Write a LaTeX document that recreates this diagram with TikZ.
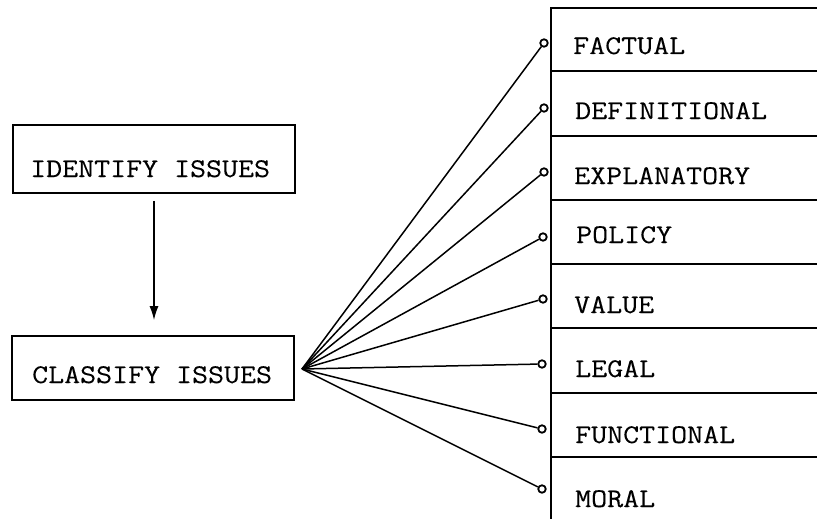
\documentclass[tikz,border=0pt]{standalone}
\usepackage{fontspec}
\usetikzlibrary{arrows.meta}
\newfontfamily\typewr{Latin Modern Mono}[FakeStretch=1.15,FakeBold=0.2]
\begin{document}
\begin{tikzpicture}[x=1pt,y=-1pt,
  box/.style={draw, line width=1.7pt, minimum width=282pt, inner sep=0pt},
  txt/.style={font=\typewr\fontsize{27}{27}\selectfont, anchor=base west, inner sep=0pt},
  rule/.style={line width=1.7pt},
  fanline/.style={line width=1.5pt},
  dot/.style={circle, draw, fill=white, line width=1.8pt, minimum size=7.5pt, inner sep=0pt}]
\useasboundingbox (0,0) rectangle (817,519);
% left boxes
\node[box, minimum height=68pt] (id) at (154,159) {};
\node[txt] (idt) at (30,177) {IDENTIFY ISSUES};
\node[box, minimum height=64pt] (cl) at (153,368) {};
\node[txt] (clt) at (32,383) {CLASSIFY ISSUES};
\draw[line width=1.5pt, -{Latex[length=14pt,width=9pt]}, shorten <=7pt, shorten >=15pt] (id.south -| 154,0) -- (cl.north -| 154,0);
% right column
\draw[rule] (817,8) -- (551,8) -- (551,519);
\foreach \y in {71,136,200,264,328,393,457} \draw[rule] (551,\y) -- (817,\y);
\node[txt] at (573,54) {FACTUAL};
\node[txt] at (575,119) {DEFINITIONAL};
\node[txt] at (574,184) {EXPLANATORY};
\node[txt] at (576,243) {POLICY};
\node[txt] at (574,313) {VALUE};
\node[txt] at (575,377) {LEGAL};
\node[txt] at (575,443) {FUNCTIONAL};
\node[txt] at (575,507) {MORAL};
% fan
\coordinate (fan) at (302,369);
\node[dot] (d1) at (544,43) {};
\node[dot] (d2) at (544,108) {};
\node[dot] (d3) at (544,172) {};
\node[dot] (d4) at (543,237) {};
\node[dot] (d5) at (543,299) {};
\node[dot] (d6) at (542,364) {};
\node[dot] (d7) at (542,429) {};
\node[dot] (d8) at (542,489) {};
\foreach \d in {d1,d2,d3,d4,d5,d6,d7,d8} \draw[fanline] (fan) -- (\d);
\end{tikzpicture}
\end{document}
